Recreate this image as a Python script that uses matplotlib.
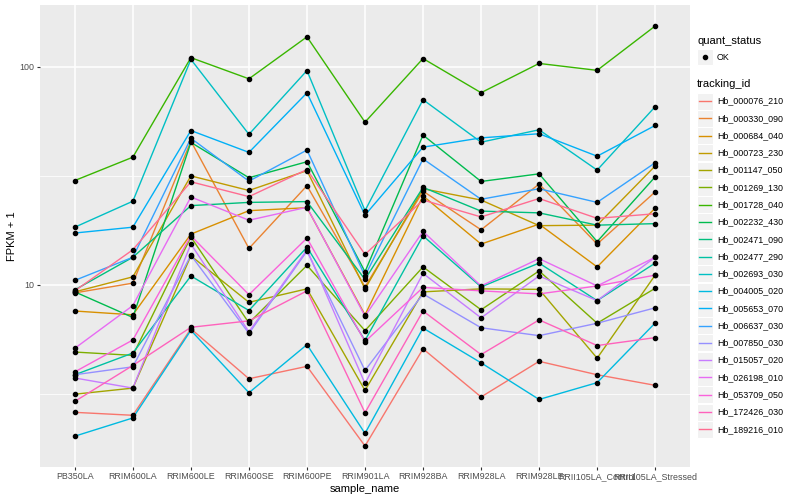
import numpy as np
import matplotlib
matplotlib.use("Agg")
import matplotlib.pyplot as plt
from matplotlib.patches import Rectangle
from matplotlib.lines import Line2D

plt.rcParams["font.family"] = ["Liberation Sans", "DejaVu Sans"]

SAMPLES = ["PB350LA", "RRIM600LA", "RRIM600LE", "RRIM600SE", "RRIM600PE",
           "RRIM901LA", "RRIM928BA", "RRIM928LA", "RRIM928LE",
           "RRII105LA_Control", "RRII105LA_Stressed"]

TRACKING_IDS = ["Hb_000076_210", "Hb_000330_090", "Hb_000684_040", "Hb_000723_230",
                "Hb_001147_050", "Hb_001269_130", "Hb_001728_040", "Hb_002232_430",
                "Hb_002471_090", "Hb_002477_290", "Hb_002693_030", "Hb_004005_020",
                "Hb_005653_070", "Hb_006637_030", "Hb_007850_030", "Hb_015057_020",
                "Hb_026198_010", "Hb_053709_050", "Hb_172426_030", "Hb_189216_010"]

# ggplot default hue palette, 20 levels
COLORS = ["#F8766D", "#EA8331", "#D89000", "#C09B00", "#A3A500", "#7CAE00",
          "#39B600", "#00BB4E", "#00BF7D", "#00C1A3", "#00BFC4", "#00BAE0",
          "#00B0F6", "#35A2FF", "#9590FF", "#C77CFF", "#E76BF3", "#FA62DB",
          "#FF62BC", "#FF6C91"]

# FPKM + 1 per sample
hb_000076_210 = [2.61, 2.53, 6.3, 3.72, 4.24, 1.83, 5.1, 3.07, 4.47, 3.88, 3.47]
hb_000330_090 = [9.2, 10.2, 45.6, 14.7, 28.5, 9.8, 26.9, 17.9, 29.0, 15.4, 26.7]
hb_000684_040 = [7.6, 7.3, 17.1, 21.9, 22.6, 7.3, 25.6, 15.4, 19.0, 12.1, 22.5]
hb_000723_230 = [9.3, 10.9, 31.6, 27.1, 33.4, 9.6, 27.6, 24.5, 18.7, 18.8, 35.1]
hb_001147_050 = [3.16, 3.37, 13.6, 8.33, 9.6, 3.29, 9.3, 9.6, 9.55, 4.62, 11.1]
hb_001269_130 = [4.93, 4.76, 16.6, 6.7, 12.3, 6.18, 12.1, 7.7, 11.6, 6.68, 9.66]
hb_001728_040 = [30.1, 38.5, 110, 88, 137, 55.7, 109, 76, 103.5, 96.2, 153.6]
hb_002232_430 = [9.3, 7.1, 45.0, 31.0, 36.7, 11.5, 48.6, 29.8, 32.3, 15.8, 31.3]
hb_002471_090 = [9.5, 13.4, 23.1, 23.9, 24.1, 10.6, 28.0, 21.8, 21.4, 18.8, 19.1]
hb_002477_290 = [3.88, 4.88, 11.0, 7.64, 14.9, 5.57, 16.8, 9.8, 12.6, 8.48, 12.6]
hb_002693_030 = [18.4, 24.2, 108, 49.0, 96.0, 21.9, 70.6, 45.1, 51.4, 33.6, 65.6]
hb_004005_020 = [2.03, 2.46, 6.2, 3.21, 5.33, 2.09, 6.35, 4.4, 2.99, 3.57, 6.7]
hb_005653_070 = [17.3, 18.4, 51.0, 40.5, 75.9, 20.9, 42.8, 47.2, 49.3, 38.9, 53.8]
hb_006637_030 = [10.5, 13.4, 47.0, 29.9, 41.5, 11.0, 37.8, 24.7, 27.6, 23.9, 36.3]
hb_007850_030 = [3.88, 4.22, 13.7, 6.0, 14.3, 4.06, 9.1, 6.37, 5.86, 6.68, 7.86]
hb_015057_020 = [3.75, 3.37, 15.4, 6.1, 14.5, 3.54, 11.3, 7.07, 11.0, 8.48, 13.4]
hb_026198_010 = [5.13, 8.05, 25.3, 19.8, 22.7, 7.2, 17.6, 9.9, 13.2, 9.9, 13.4]
hb_053709_050 = [4.0, 5.6, 16.8, 9.03, 16.4, 5.5, 9.75, 9.4, 9.1, 9.9, 11.1]
hb_172426_030 = [2.93, 4.28, 6.4, 6.85, 9.4, 2.6, 7.6, 4.8, 6.92, 5.28, 5.74]
hb_189216_010 = [9.4, 14.5, 29.7, 25.4, 33.8, 13.8, 24.5, 20.5, 24.9, 20.2, 21.2]

SERIES = [hb_000076_210, hb_000330_090, hb_000684_040, hb_000723_230,
          hb_001147_050, hb_001269_130, hb_001728_040, hb_002232_430,
          hb_002471_090, hb_002477_290, hb_002693_030, hb_004005_020,
          hb_005653_070, hb_006637_030, hb_007850_030, hb_015057_020,
          hb_026198_010, hb_053709_050, hb_172426_030, hb_189216_010]

fig = plt.figure(figsize=(8, 5), dpi=100)
ax = fig.add_axes([40 / 800, 33 / 500, 650 / 800, 462 / 500])
ax.set_facecolor("#EBEBEB")
for s in ax.spines.values():
    s.set_visible(False)

x = np.arange(len(SAMPLES))
for vals, col in zip(SERIES, COLORS):
    ax.plot(x, vals, color=col, lw=1.0, zorder=2)
for vals in SERIES:
    ax.plot(x, vals, ls="none", marker="o", ms=3.0, color="black", zorder=3)

ax.set_yscale("log")
ax.set_yticks([10, 100])
ax.set_yticklabels(["10", "100"])
ax.set_yticks([10 ** 0.5, 10 ** 1.5, 10 ** 2.5], minor=True)
ax.set_xticks(x)
ax.set_xticklabels(SAMPLES)

# ggplot-like 5% expansion in log space, set after ticks so they don't widen it
allv = np.concatenate([np.array(v) for v in SERIES])
lo, hi = np.log10(allv.min()), np.log10(allv.max())
pad = (hi - lo) * 0.05
ax.set_ylim(10 ** (lo - pad), 10 ** (hi + pad))
ax.set_xlim(-0.6, len(SAMPLES) - 0.4)

ax.grid(which="major", color="white", lw=1.1, zorder=1)
ax.grid(which="minor", axis="y", color="white", lw=0.55, zorder=1)
ax.set_axisbelow(True)
ax.tick_params(which="major", length=2.2, width=0.8, color="#333333",
               labelsize=6.4, labelcolor="#4D4D4D", pad=1.6)
ax.tick_params(which="minor", length=0)
ax.set_xlabel("sample_name", fontsize=8, labelpad=2)
ax.set_ylabel("FPKM + 1", fontsize=8, labelpad=2)

# legend drawn in pixel coordinates
lax = fig.add_axes([0, 0, 1, 1])
lax.set_xlim(0, 800)
lax.set_ylim(500, 0)
lax.axis("off")

lax.text(697, 41, "quant_status", fontsize=8, va="center", ha="left")
lax.add_patch(Rectangle((697, 49), 16, 16, facecolor="#F2F2F2", edgecolor="white", lw=0.8))
lax.plot([705], [57], marker="o", ms=3.0, color="black")
lax.text(717, 57, "OK", fontsize=6.4, va="center", ha="left")

lax.text(697, 84, "tracking_id", fontsize=8, va="center", ha="left")
for i, (tid, col) in enumerate(zip(TRACKING_IDS, COLORS)):
    yc = 101 + i * 17.28
    lax.add_patch(Rectangle((697, yc - 8.5), 16, 17, facecolor="#F2F2F2",
                            edgecolor="white", lw=0.8))
    lax.add_line(Line2D([699, 711], [yc, yc], color=col, lw=1.0))
    lax.text(717, yc, tid, fontsize=6.4, va="center", ha="left")

fig.savefig("out.png", dpi=100, facecolor="white")
